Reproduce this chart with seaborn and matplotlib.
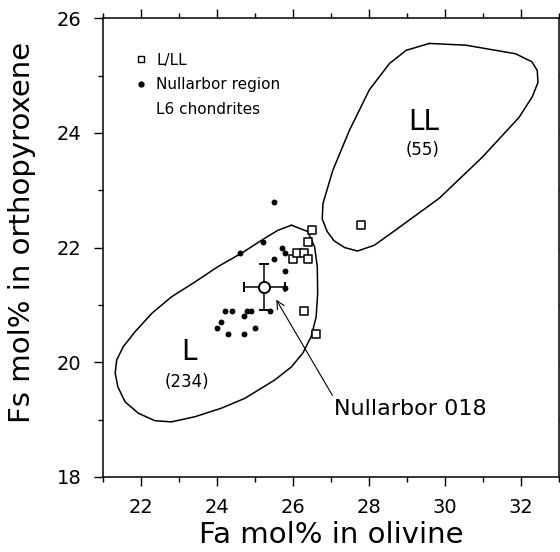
import seaborn as sns
import matplotlib.pyplot as plt
from matplotlib.lines import Line2D
from matplotlib.ticker import MultipleLocator

# L/LL chondrites (open squares)
ll_fa = [26.5, 26.4, 26.0, 26.1, 26.3, 26.4, 26.3, 26.6, 27.8]
ll_fs = [22.3, 22.1, 21.8, 21.9, 21.9, 21.8, 20.9, 20.5, 22.4]

# Nullarbor region L6 chondrites (filled dots)
l6_fa = [25.5, 25.2, 24.6, 25.7, 25.8, 25.5, 25.8, 25.8, 25.4, 24.2,
         24.4, 24.8, 24.9, 24.7, 24.1, 24.0, 25.0, 24.3, 24.7]
l6_fs = [22.8, 22.1, 21.9, 22.0, 21.9, 21.8, 21.6, 21.3, 20.9, 20.9,
         20.9, 20.9, 20.9, 20.8, 20.7, 20.6, 20.6, 20.5, 20.5]

# Nullarbor 018 mean +/- spread
n018_fa, n018_fs = 25.25, 21.31
n018_fa_err, n018_fs_err = 0.53, 0.40

# outlines of the L (234) and LL (55) fields
l_field_fa = [25.96, 26.39, 26.57, 26.64, 26.65, 26.61, 26.48, 26.26, 25.96, 25.52,
              24.73, 24.12, 23.42, 22.80, 22.37, 21.93, 21.58, 21.39, 21.32, 21.36,
              21.53, 21.84, 22.28, 22.80, 23.42, 24.03, 24.64, 25.25, 25.60]
l_field_fs = [22.39, 22.28, 22.01, 21.67, 21.20, 20.79, 20.45, 20.16, 19.92, 19.69,
              19.37, 19.20, 19.05, 18.96, 18.98, 19.11, 19.31, 19.57, 19.81, 20.04,
              20.27, 20.53, 20.85, 21.14, 21.40, 21.67, 21.90, 22.16, 22.30]
ll_field_fa = [29.59, 30.55, 31.86, 32.29, 32.43, 32.45, 32.30, 31.95, 30.99, 29.85,
               28.71, 28.14, 27.70, 27.36, 27.08, 26.90, 26.77, 26.79, 27.05, 27.49,
               28.01, 28.54, 28.98]
ll_field_fs = [25.56, 25.53, 25.38, 25.24, 25.09, 24.88, 24.63, 24.27, 23.58, 22.86,
               22.31, 22.04, 21.94, 22.00, 22.12, 22.28, 22.50, 22.77, 23.35, 24.05,
               24.75, 25.21, 25.44]

sns.set_style("ticks")
plt.rcParams['font.family'] = ['DejaVu Sans']
plt.rcParams['text.color'] = 'black'
plt.rcParams['axes.labelcolor'] = 'black'
plt.rcParams['xtick.color'] = 'black'
plt.rcParams['ytick.color'] = 'black'

fig = plt.figure(figsize=(5.6, 5.52), dpi=100)
ax = fig.add_axes([0.184, 0.136, 0.814, 0.831])

# field outlines
ax.plot(l_field_fa + l_field_fa[:1], l_field_fs + l_field_fs[:1],
        color='black', lw=1.1, solid_joinstyle='round')
ax.plot(ll_field_fa + ll_field_fa[:1], ll_field_fs + ll_field_fs[:1],
        color='black', lw=1.1, solid_joinstyle='round')

sns.scatterplot(x=l6_fa, y=l6_fs, marker='o', s=18, color='black',
                linewidth=0, ax=ax, zorder=4)
sns.scatterplot(x=ll_fa, y=ll_fs, marker='s', s=30, color='white',
                edgecolor='black', linewidth=1.1, ax=ax, zorder=4)

ax.errorbar(n018_fa, n018_fs, xerr=n018_fa_err, yerr=n018_fs_err, fmt='o',
            ms=8, mfc='white', mec='black', mew=1.4, ecolor='black',
            elinewidth=1.1, capsize=3.5, capthick=1.1, zorder=5)

# field labels
ax.text(29.43, 24.19, 'LL', fontsize=20, ha='center', va='center')
ax.text(29.41, 23.70, '(55)', fontsize=12, ha='center', va='center')
ax.text(23.25, 20.18, 'L', fontsize=20, ha='center', va='center')
ax.text(23.20, 19.66, '(234)', fontsize=12, ha='center', va='center')

ax.annotate('Nullarbor 018', xy=(25.56, 21.09), xytext=(27.09, 19.19),
            fontsize=16, ha='left', va='center',
            arrowprops=dict(arrowstyle='->', lw=0.8, color='black',
                            relpos=(0, 1), shrinkA=0, shrinkB=0,
                            mutation_scale=14))

# legend
handles = [
    Line2D([], [], marker='s', ls='none', mfc='white', mec='black', ms=5, mew=1),
    Line2D([], [], marker='o', ls='none', mfc='black', mec='black', ms=3.5),
    Line2D([], [], ls='none'),
]
labels = ['L/LL', 'Nullarbor region', 'L6 chondrites']
ax.legend(handles, labels, loc='upper left', bbox_to_anchor=(0.07, 0.925),
          frameon=False, fontsize=11, handlelength=0.8, handletextpad=0.6,
          labelspacing=0.62, borderaxespad=0, borderpad=0)

ax.set_xlim(21, 33)
ax.set_ylim(18, 26)
ax.xaxis.set_major_locator(MultipleLocator(2))
ax.xaxis.set_minor_locator(MultipleLocator(1))
ax.yaxis.set_major_locator(MultipleLocator(2))
ax.yaxis.set_minor_locator(MultipleLocator(1))
ax.tick_params(which='both', direction='out', top=True, right=True,
               width=1, color='black', labelsize=14, pad=9)
ax.tick_params(which='major', length=6.5)
ax.tick_params(which='minor', length=3.5)
for sp in ax.spines.values():
    sp.set_linewidth(1.1)
    sp.set_color('black')

ax.set_xlabel('Fa mol% in olivine', fontsize=21)
ax.set_ylabel('Fs mol% in orthopyroxene', fontsize=21)
ax.xaxis.label.set_verticalalignment('center')
ax.yaxis.label.set_verticalalignment('center')
ax.xaxis.set_label_coords(0.5, -0.126)
ax.yaxis.set_label_coords(-0.178, 0.534)

plt.savefig('out.png', dpi=100)
